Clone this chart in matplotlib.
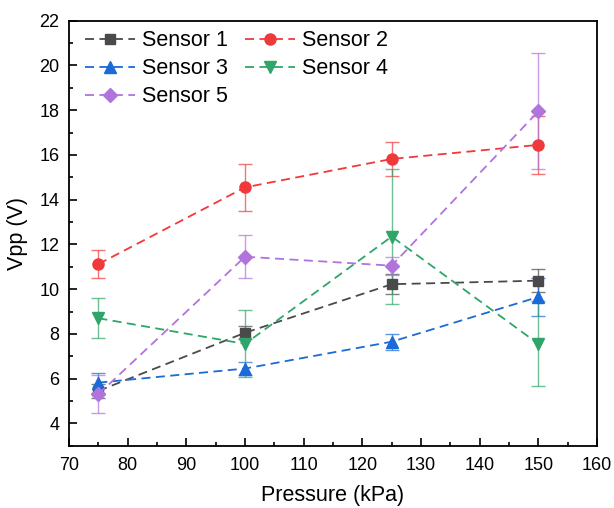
import matplotlib
matplotlib.use("Agg")
import matplotlib.pyplot as plt
from matplotlib.ticker import MultipleLocator

plt.rcParams['font.family'] = ['Liberation Sans', 'DejaVu Sans']

pressure = [75, 100, 125, 150]

labels = ['Sensor 1', 'Sensor 2', 'Sensor 3', 'Sensor 4', 'Sensor 5']
vpp = [
    [5.45, 8.05, 10.22, 10.38],
    [11.12, 14.55, 15.82, 16.45],
    [5.82, 6.45, 7.65, 9.65],
    [8.70, 7.55, 12.35, 7.55],
    [5.30, 11.45, 11.05, 17.95],
]
err = [
    [0.30, 0.30, 0.45, 0.50],
    [0.63, 1.05, 0.75, 1.30],
    [0.45, 0.30, 0.35, 0.85],
    [0.90, 1.50, 3.00, 1.90],
    [0.85, 0.95, 0.40, 2.60],
]
colors = ['#4a4a4a', '#f0393b', '#1a6ad8', '#2fa56a', '#b074dc']
markers = ['s', 'o', '^', 'v', 'D']
msizes = [7, 8, 8, 8, 7]


def main():
    fig = plt.figure(figsize=(6.14, 5.08), dpi=100)
    ax = fig.add_axes([0.1124, 0.1226, 0.860, 0.8366])

    handles = []
    for i in range(len(labels)):
        ax.errorbar(pressure, vpp[i], yerr=err[i], color=colors[i],
                    ecolor=colors[i], elinewidth=1, capsize=5, capthick=1,
                    fmt='none', alpha=0.7, zorder=2)
        line, = ax.plot(pressure, vpp[i], linestyle=(0, (5, 3)),
                        color=colors[i], lw=1.3, marker=markers[i],
                        markersize=msizes[i], label=labels[i], zorder=3)
        handles.append(line)

    ax.set_xlim(70, 160)
    ax.set_ylim(3, 22)
    ax.xaxis.set_major_locator(MultipleLocator(10))
    ax.xaxis.set_minor_locator(MultipleLocator(5))
    ax.yaxis.set_minor_locator(MultipleLocator(1))
    ax.set_yticks(range(4, 23, 2))
    ax.tick_params(which='both', direction='in', labelsize=13, width=1.2)
    ax.tick_params(which='major', length=6)
    ax.tick_params(which='minor', length=3)
    ax.tick_params(axis='x', pad=8)
    ax.tick_params(axis='y', pad=7)
    for s in ax.spines.values():
        s.set_linewidth(1.3)

    ax.set_xlabel('Pressure (kPa)', fontsize=15.5, labelpad=8)
    ax.set_ylabel('Vpp (V)', fontsize=15.5, labelpad=8)

    # row-wise legend order: 1 2 / 3 4 / 5
    order = [0, 2, 4, 1, 3]
    ax.legend([handles[k] for k in order], [labels[k] for k in order],
              ncol=2, loc='upper left', bbox_to_anchor=(0.006, 1.008),
              frameon=False, fontsize=15.5, handlelength=2.3,
              columnspacing=0.8, labelspacing=0.33, borderaxespad=0.2,
              handletextpad=0.35)

    fig.savefig('out.png', dpi=100)


if __name__ == "__main__":
    main()
